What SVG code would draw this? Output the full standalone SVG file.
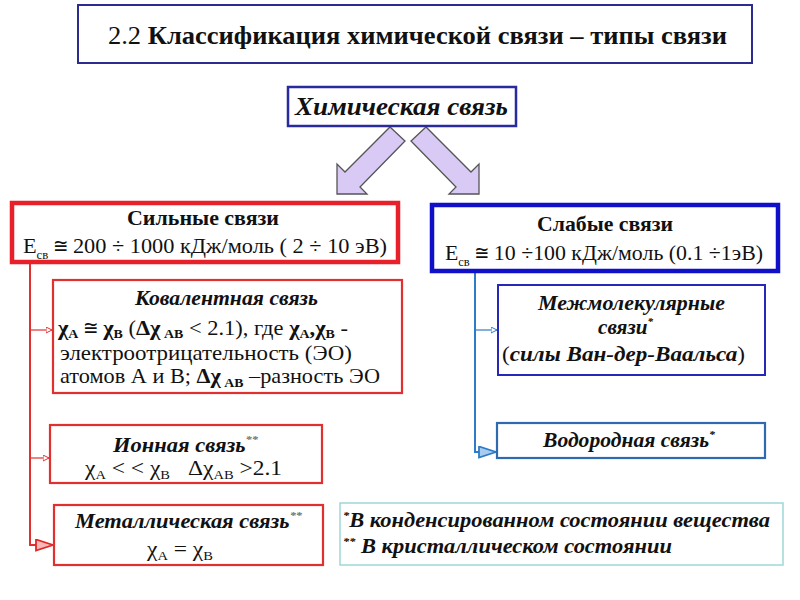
<svg xmlns="http://www.w3.org/2000/svg" width="800" height="600" viewBox="0 0 800 600">
<style>
.b{font-weight:bold}
.bi{font-weight:bold;font-style:italic}
.n{font-weight:normal;font-style:normal}
.box{fill:#fff}
.t{fill:#111}
</style>
<defs>
<marker id="rs" markerUnits="userSpaceOnUse" markerWidth="8" markerHeight="8" refX="6" refY="3" orient="auto"><path d="M0,0 L6,3 L0,6 z" fill="#fff" stroke="#E03030" stroke-width="1"/></marker>
<marker id="rl" markerUnits="userSpaceOnUse" markerWidth="20" markerHeight="14" refX="18" refY="6.5" orient="auto"><path d="M1,1 L18,6.5 L1,12 z" fill="#F8B8B8" stroke="#E02828" stroke-width="1.8"/></marker>
<marker id="bs" markerUnits="userSpaceOnUse" markerWidth="8" markerHeight="8" refX="6" refY="3" orient="auto"><path d="M0,0 L6,3 L0,6 z" fill="#fff" stroke="#2E7BC8" stroke-width="1"/></marker>
<marker id="bl" markerUnits="userSpaceOnUse" markerWidth="20" markerHeight="14" refX="18" refY="6.5" orient="auto"><path d="M1,1 L18,6.5 L1,12 z" fill="#A8CCF0" stroke="#2E7BC8" stroke-width="1.8"/></marker>
</defs>
<rect width="800" height="600" fill="#fff"/>

<g id="connectors">
<path d="M30,262 V545 H53" fill="none" stroke="#E03030" stroke-width="2" marker-end="url(#rl)"/>
<path d="M30,330 H52" fill="none" stroke="#E03030" stroke-width="1.2" marker-end="url(#rs)"/>
<path d="M30,458 H49" fill="none" stroke="#E03030" stroke-width="1.2" marker-end="url(#rs)"/>
<path d="M475,272 V452 H496" fill="none" stroke="#2E7BC8" stroke-width="2" marker-end="url(#bl)"/>
<path d="M475,330 H497" fill="none" stroke="#2E7BC8" stroke-width="1.2" marker-end="url(#bs)"/>
<polygon points="390,127 405,141 360,187 367,194 337,194 337,164 345,172" fill="#D8CAF4" stroke="#555" stroke-width="1.3"/>
<polygon points="426,127 411,141 456,187 449,194 479,194 479,164 471,172" fill="#D8CAF4" stroke="#555" stroke-width="1.3"/>
</g>

<g id="title">
<rect x="78" y="5" width="674" height="58" class="box" stroke="#2C2C90" stroke-width="2"/>
<text font-family="'Liberation Serif', monospace" class="t" x="108" y="44" font-size="26" textLength="619" lengthAdjust="spacingAndGlyphs"><tspan>2.2 </tspan><tspan class="b">Классификация химической связи – типы связи</tspan></text>
</g>

<g id="chem">
<rect x="288" y="87" width="228" height="39" class="box" stroke="#2A2AA0" stroke-width="2.5"/>
<text font-family="'Liberation Serif', monospace" class="t bi" x="295" y="115" font-size="25" textLength="213" lengthAdjust="spacingAndGlyphs">Химическая связь</text>
</g>

<g id="strong">
<rect x="12" y="203" width="386" height="59" class="box" stroke="#E8202A" stroke-width="4.5"/>
<text font-family="'Liberation Serif', monospace" class="t b" x="127" y="225" font-size="21" textLength="152" lengthAdjust="spacingAndGlyphs">Сильные связи</text>
<text font-family="'Liberation Serif', monospace" class="t" x="23" y="253" font-size="21" textLength="364" lengthAdjust="spacingAndGlyphs">Е<tspan font-size="12" dy="6">св</tspan><tspan dy="-6"> ≅ 200 ÷ 1000 кДж/моль ( 2 ÷ 10 эВ)</tspan></text>
</g>

<g id="weak">
<rect x="432" y="205" width="346" height="66" class="box" stroke="#1010C8" stroke-width="4.5"/>
<text font-family="'Liberation Serif', monospace" class="t b" x="537" y="231" font-size="21" textLength="136" lengthAdjust="spacingAndGlyphs">Слабые связи</text>
<text font-family="'Liberation Serif', monospace" class="t" x="445" y="260" font-size="21" textLength="318" lengthAdjust="spacingAndGlyphs">Е<tspan font-size="12" dy="6">св</tspan><tspan dy="-6"> ≅ 10 ÷100 кДж/моль (0.1 ÷1эВ)</tspan></text>
</g>

<g id="covalent">
<rect x="53" y="280" width="349" height="113" class="box" stroke="#E03030" stroke-width="2.2"/>
<text font-family="'Liberation Serif', monospace" class="t bi" x="135" y="305" font-size="20" textLength="183" lengthAdjust="spacingAndGlyphs">Ковалентная связь</text>
<text font-family="'Liberation Serif', monospace" class="t" x="58" y="335" font-size="21" textLength="290" lengthAdjust="spacingAndGlyphs"><tspan class="b">χ</tspan><tspan class="b" font-size="13" dy="3">A</tspan><tspan dy="-3"> ≅ </tspan><tspan class="b">χ</tspan><tspan class="b" font-size="13" dy="3">B</tspan><tspan dy="-3"> (</tspan><tspan class="b">Δχ</tspan><tspan class="b" font-size="13" dy="3"> AB</tspan><tspan dy="-3"> &lt; 2.1), где </tspan><tspan class="b">χ</tspan><tspan class="b" font-size="13" dy="3">A</tspan><tspan dy="-3" class="b">,χ</tspan><tspan class="b" font-size="13" dy="3">B</tspan><tspan dy="-3"> -</tspan></text>
<text font-family="'Liberation Serif', monospace" class="t" x="60" y="360" font-size="21" textLength="292" lengthAdjust="spacingAndGlyphs">электроотрицательность (ЭО)</text>
<text font-family="'Liberation Serif', monospace" class="t" x="60" y="383" font-size="21" textLength="320" lengthAdjust="spacingAndGlyphs">атомов А и В; <tspan class="b">Δχ</tspan><tspan class="b" font-size="13" dy="4"> AB</tspan><tspan dy="-4"> –разность ЭО</tspan></text>
</g>

<g id="ionic">
<rect x="50" y="425" width="272" height="58" class="box" stroke="#E03030" stroke-width="2.2"/>
<text font-family="'Liberation Serif', monospace" class="t bi" x="113" y="452" font-size="20" textLength="145" lengthAdjust="spacingAndGlyphs">Ионная связь<tspan font-size="11" dy="-9" fill="#777">**</tspan></text>
<text font-family="'Liberation Serif', monospace" class="t" x="85" y="475" font-size="21" textLength="197" lengthAdjust="spacingAndGlyphs">χ<tspan font-size="13" dy="4">A</tspan><tspan dy="-4"> &lt; &lt; χ</tspan><tspan font-size="13" dy="4">B</tspan><tspan dy="-4" dx="16">Δχ</tspan><tspan font-size="13" dy="4">AB</tspan><tspan dy="-4"> &gt;2.1</tspan></text>
</g>

<g id="metallic">
<rect x="54" y="505" width="269" height="60" class="box" stroke="#E03030" stroke-width="2.2"/>
<text font-family="'Liberation Serif', monospace" class="t bi" x="75" y="528" font-size="20" textLength="227" lengthAdjust="spacingAndGlyphs">Металлическая связь<tspan font-size="11" dy="-9" fill="#777">**</tspan></text>
<text font-family="'Liberation Serif', monospace" class="t" x="147" y="556" font-size="21" textLength="66" lengthAdjust="spacingAndGlyphs">χ<tspan font-size="13" dy="4">A</tspan><tspan dy="-4"> = χ</tspan><tspan font-size="13" dy="4">B</tspan></text>
</g>

<g id="intermolecular">
<rect x="498" y="285" width="267" height="90" class="box" stroke="#2828B8" stroke-width="2"/>
<text font-family="'Liberation Serif', monospace" class="t bi" x="538" y="310" font-size="21" textLength="187" lengthAdjust="spacingAndGlyphs">Межмолекулярные</text>
<text font-family="'Liberation Serif', monospace" class="t bi" x="598" y="334" font-size="21" textLength="55" lengthAdjust="spacingAndGlyphs">связи<tspan font-size="11" dy="-9">*</tspan></text>
<text font-family="'Liberation Serif', monospace" class="t bi" x="502" y="361" font-size="21" textLength="243" lengthAdjust="spacingAndGlyphs"><tspan class="n">(</tspan>силы Ван-дер-Ваальса<tspan class="n">)</tspan></text>
</g>

<g id="hydrogen">
<rect x="497" y="423" width="268" height="35" class="box" stroke="#2E6AB0" stroke-width="2.2"/>
<text font-family="'Liberation Serif', monospace" class="t bi" x="543" y="447" font-size="20" textLength="172" lengthAdjust="spacingAndGlyphs">Водородная связь<tspan font-size="11" dy="-9">*</tspan></text>
</g>

<g id="footnote">
<rect x="340" y="503" width="443" height="62" class="box" stroke="#9ED8D8" stroke-width="1.5"/>
<text font-family="'Liberation Serif', monospace" class="t bi" x="343" y="527" font-size="20" textLength="427" lengthAdjust="spacingAndGlyphs"><tspan font-size="11" dy="-8">*</tspan><tspan dy="8">В конденсированном состоянии вещества</tspan></text>
<text font-family="'Liberation Serif', monospace" class="t bi" x="343" y="553" font-size="20" textLength="329" lengthAdjust="spacingAndGlyphs"><tspan font-size="11" dy="-8">**</tspan><tspan dy="8"> В кристаллическом состоянии</tspan></text>
</g>
</svg>
